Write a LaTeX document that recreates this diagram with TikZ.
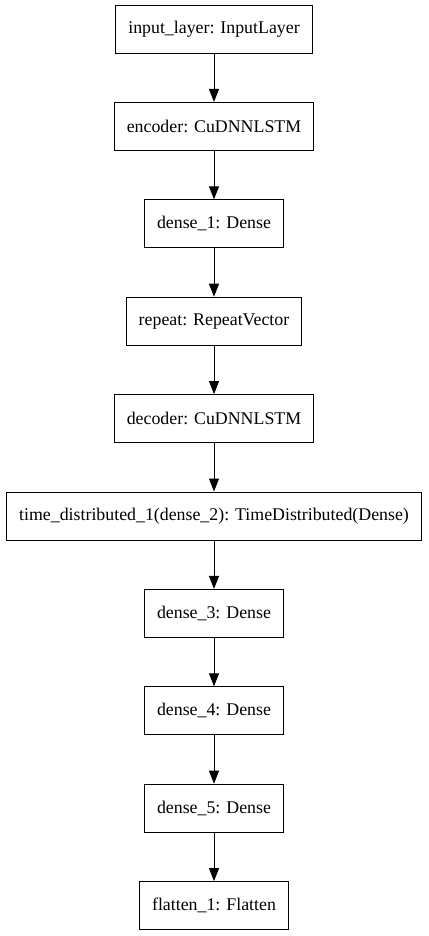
\documentclass[tikz,border=0pt]{standalone}
\usepackage{fontspec}
\setmainfont{Liberation Serif}
\usetikzlibrary{positioning}
\usetikzlibrary{arrows.meta}

\tikzset{
  layer/.style={draw, line width=1bp, rectangle, minimum height=48bp,
    inner xsep=12.5bp, font=\fontsize{17.9}{21}\selectfont},
  flow/.style={line width=1bp, -{Triangle[length=13bp,width=10bp]}}
}

\begin{document}
\begin{tikzpicture}[x=1bp, y=1bp, node distance=48.4bp]
\useasboundingbox (0,0) rectangle (428,-936);

% Layers of the model, top to bottom
\node[layer] (input) at (214,-29) {input\_layer: InputLayer};
\node[layer, below=of input] (encoder) {encoder: CuDNNLSTM};
\node[layer, below=of encoder] (dense1) {dense\_1: Dense};
\node[layer, below=of dense1] (repeat) {repeat: RepeatVector};
\node[layer, below=of repeat] (decoder) {decoder: CuDNNLSTM};
\node[layer, below=of decoder] (timedist)
    {time\_distributed\_1(dense\_2): TimeDistributed(Dense)};
\node[layer, below=of timedist] (dense3) {dense\_3: Dense};
\node[layer, below=of dense3] (dense4) {dense\_4: Dense};
\node[layer, below=of dense4] (dense5) {dense\_5: Dense};
\node[layer, below=of dense5] (flatten) {flatten\_1: Flatten};

% Connections
\draw[flow] (input) -- (encoder);
\draw[flow] (encoder) -- (dense1);
\draw[flow] (dense1) -- (repeat);
\draw[flow] (repeat) -- (decoder);
\draw[flow] (decoder) -- (timedist);
\draw[flow] (timedist) -- (dense3);
\draw[flow] (dense3) -- (dense4);
\draw[flow] (dense4) -- (dense5);
\draw[flow] (dense5) -- (flatten);
\end{tikzpicture}
\end{document}
